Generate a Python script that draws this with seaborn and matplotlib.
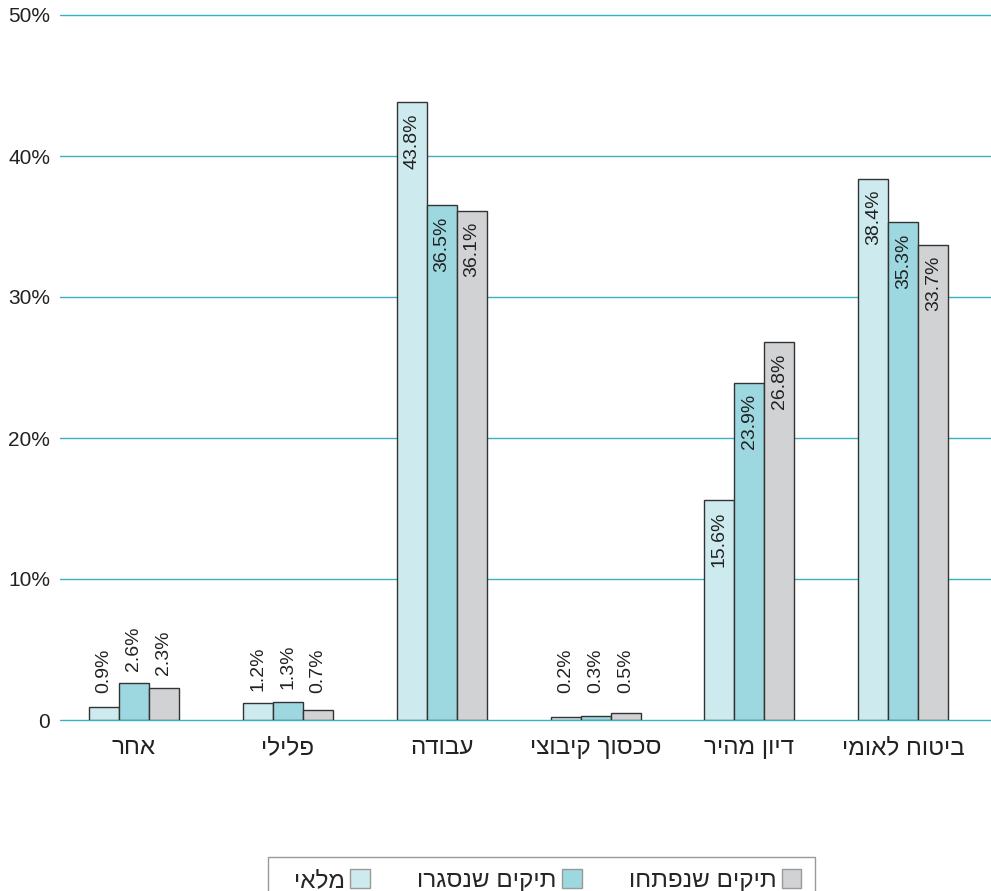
import matplotlib
matplotlib.use("Agg")
import matplotlib.pyplot as plt
import seaborn as sns
import pandas as pd
from matplotlib.patches import Patch, Rectangle

categories = ["אחר", "פלילי", "עבודה", "סכסוך קיבוצי", "דיון מהיר", "ביטוח לאומי"]
series_names = ["מלאי", "תיקים שנסגרו", "תיקים שנפתחו"]
inventory = [0.9, 1.2, 43.8, 0.2, 15.6, 38.4]
closed = [2.6, 1.3, 36.5, 0.3, 23.9, 35.3]
opened = [2.3, 0.7, 36.1, 0.5, 26.8, 33.7]
y_ticks = [0, 10, 20, 30, 40, 50]
y_tick_labels = ["0", "10%", "20%", "30%", "40%", "50%"]

colors = ["#cdebee", "#9dd8e1", "#d1d2d4"]
grid_color = "#36b2c2"


def vis(s):
    # matplotlib has no bidi support: reverse Hebrew for visual order
    return s[::-1]


sns.set_theme(style="white")
plt.rcParams["font.family"] = ["Liberation Sans", "DejaVu Sans"]

rows = []
for name, vals in zip(series_names, [inventory, closed, opened]):
    for c, v in zip(categories, vals):
        rows.append({"category": vis(c), "series": name, "value": v})
df = pd.DataFrame(rows)

W, H = 991, 891
fig = plt.figure(figsize=(W / 100, H / 100), dpi=100)
ax = fig.add_axes([60 / W, 171 / H, 931 / W, 705 / H])

sns.barplot(data=df, x="category", y="value", hue="series",
            hue_order=series_names, palette=colors, width=0.585, gap=0,
            edgecolor="#333333", linewidth=1.0, saturation=1, ax=ax,
            legend=False, zorder=3)

ax.set_xlim(-0.48, 5.57)
ax.set_ylim(0, 50)
ax.set_yticks(y_ticks)
ax.set_yticklabels(y_tick_labels, fontsize=15, color="#222222")
ax.tick_params(axis="y", length=0, pad=7)
ax.tick_params(axis="x", length=0, pad=12, labelcolor="#222222")
for t in ax.get_xticklabels():
    t.set_fontsize(17.5)
ax.set_xlabel("")
ax.set_ylabel("")
for s in ax.spines.values():
    s.set_visible(False)
ax.yaxis.grid(True, color=grid_color, linewidth=1.0, zorder=0)
ax.set_axisbelow(True)
for gl in ax.get_ygridlines():
    gl.set_clip_on(False)

for container in ax.containers:
    for bar in container:
        h = bar.get_height()
        xc = bar.get_x() + bar.get_width() / 2
        lab = f"{h:.1f}%"
        if h > 10:
            ax.annotate(lab, (xc, h), xytext=(0, -8), textcoords="offset points",
                        rotation=90, ha="center", va="top", fontsize=14,
                        color="#222222", zorder=5)
        else:
            ax.annotate(lab, (xc, max(h, 1.0)), xytext=(0, 9), textcoords="offset points",
                        rotation=90, ha="center", va="bottom", fontsize=14,
                        color="#222222", zorder=5)

# legend (right-to-left: swatch after text), with a separate frame
handles = [Patch(facecolor=colors[i], edgecolor="#999999", linewidth=1.0,
                 label=vis(series_names[i])) for i in [0, 1, 2]]
leg = fig.legend(handles=handles, loc="upper left",
                 bbox_to_anchor=(287 / W, 1 - 862 / H), borderaxespad=0,
                 ncol=3, markerfirst=False, frameon=False,
                 fontsize=17.5, handlelength=0.82, handleheight=0.82,
                 handletextpad=0.2, columnspacing=1.95, borderpad=0.3)
fig.patches.append(Rectangle((268 / W, -0.02), (815 - 268) / W, 0.02 + (H - 857) / H,
                             transform=fig.transFigure, facecolor="none",
                             edgecolor="#999999", linewidth=1.0))

fig.savefig("out.png", dpi=100)
